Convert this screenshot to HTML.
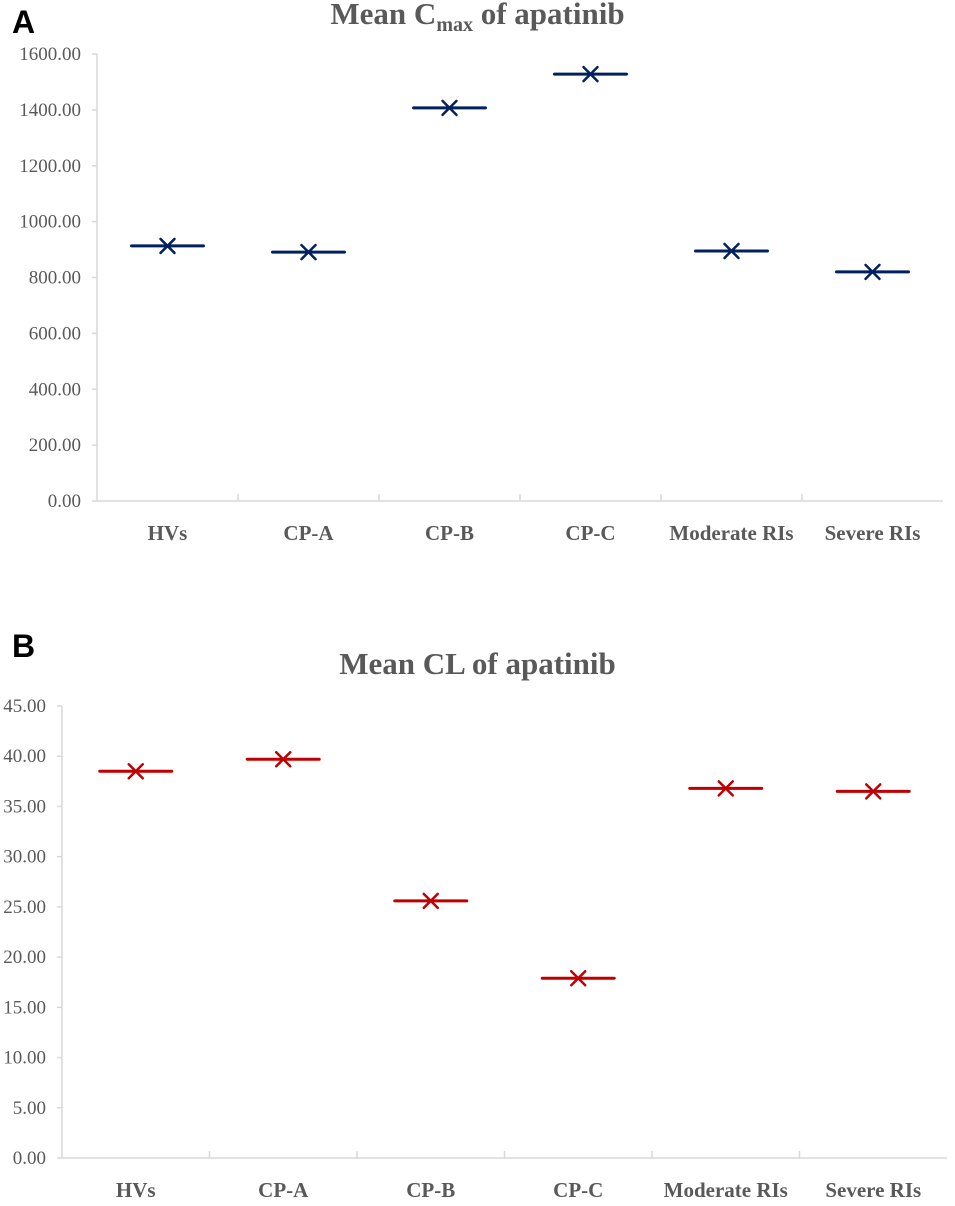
<!DOCTYPE html>
<html><head><meta charset="utf-8"><style>
body{margin:0;background:#fff;width:955px;height:1201px;overflow:hidden}
svg text{font-family:"Liberation Serif",serif}
</style></head><body>
<svg width="955" height="1201">
<g id="A"></g>
<g id="B"></g>
</svg>
<script>
const categories=["HVs","CP-A","CP-B","CP-C","Moderate RIs","Severe RIs"];
const cmaxValues=[913,891,1407,1528,895,820];
const clValues=[38.5,39.7,25.6,17.9,36.8,36.5];
const cmaxTicks=[0,200,400,600,800,1000,1200,1400,1600];
const clTicks=[0,5,10,15,20,25,30,35,40,45];
const NS="http://www.w3.org/2000/svg";
function mk(p,t,a){const e=document.createElementNS(NS,t);for(const k in a)e.setAttribute(k,a[k]);p.appendChild(e);return e;}
function draw(g,cfg){
  const {left,right,top,bottom,max,ticks,values,color,labelX,catY}=cfg;
  const y=v=>bottom-(v/max)*(bottom-top);
  const step=(right-left)/categories.length;
  const x=i=>left+step*(i+0.5);
  let ax=mk(g,"line",{x1:left,y1:top,x2:left,y2:bottom,stroke:"#d9d9d9","stroke-width":1.5});
  
  let bx=mk(g,"line",{x1:left,y1:bottom,x2:right,y2:bottom,stroke:"#d9d9d9","stroke-width":1.5});
  
  ticks.forEach(t=>{
    mk(g,"line",{x1:left-5,y1:y(t),x2:left,y2:y(t),stroke:"#d9d9d9","stroke-width":1.5});
    const tx=mk(g,"text",{x:labelX,y:y(t)+6,"text-anchor":"end","font-size":19,fill:"#595959"});
    tx.textContent=t.toFixed(2);
    
    
  });
  for(let i=1;i<categories.length;i++)mk(g,"line",{x1:left+step*i,y1:bottom-7,x2:left+step*i,y2:bottom,stroke:"#d9d9d9","stroke-width":1.5});
  categories.forEach((c,i)=>{
    const tx=mk(g,"text",{x:x(i),y:catY,"text-anchor":"middle","font-size":21,"font-weight":"bold",fill:"#595959"});
    tx.textContent=c;
    
    
    const v=values[i],yy=y(v),cx=x(i);
    const m=mk(g,"g",{stroke:color,"stroke-width":3,"stroke-linecap":"round"});
    
    
    mk(m,"line",{x1:cx-36,y1:yy,x2:cx+36,y2:yy});
    mk(m,"line",{x1:cx-7,y1:yy-7,x2:cx+7,y2:yy+7,"stroke-width":2.5});
    mk(m,"line",{x1:cx-7,y1:yy+7,x2:cx+7,y2:yy-7,"stroke-width":2.5});
  });
}
const A=document.getElementById("A"),B=document.getElementById("B");
draw(A,{left:97,right:943,top:54,bottom:501,max:1600,ticks:cmaxTicks,values:cmaxValues,color:"#002060",labelX:81,catY:540});
draw(B,{left:62,right:947,top:706,bottom:1158,max:45,ticks:clTicks,values:clValues,color:"#c00000",labelX:46,catY:1197});
</script>
<div style="position:absolute;left:12px;top:4px;font:bold 32px 'Liberation Sans',sans-serif;color:#000">A</div>
<div style="position:absolute;left:12px;top:628px;font:bold 32px 'Liberation Sans',sans-serif;color:#000">B</div>
<div style="position:absolute;left:0;width:955px;text-align:center;top:-4px;font:bold 31px 'Liberation Serif',serif;color:#595959;padding-left:0px;box-sizing:border-box;white-space:nowrap">Mean C<sub style="font-size:20px">max</sub> of apatinib</div>
<div style="position:absolute;left:0;width:955px;text-align:center;top:646px;font:bold 31px 'Liberation Serif',serif;color:#595959;padding-left:0px;box-sizing:border-box">Mean CL of apatinib</div>
</body></html>
